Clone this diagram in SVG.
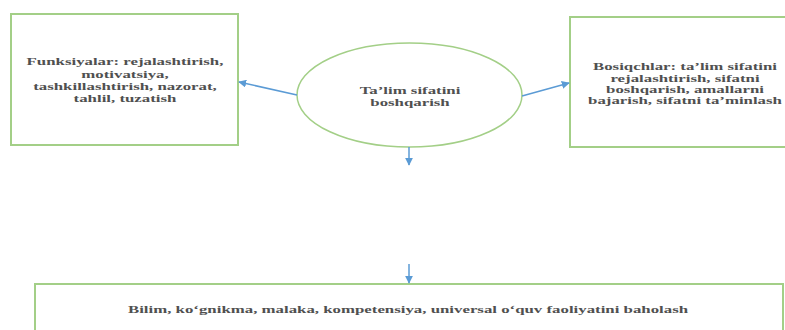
<svg xmlns="http://www.w3.org/2000/svg" width="785" height="330" viewBox="0 0 785 330">
<style>
.box{fill:#fff;stroke:#a3cf87;stroke-width:2}
.t{font-family:"Liberation Serif","Times New Roman",serif;font-weight:bold;font-size:11px;fill:#505050;text-anchor:middle}
.c{stroke:#5b9bd5;stroke-width:1.5;fill:none;marker-end:url(#ah)}
</style>
<defs>
<marker id="ah" viewBox="0 0 10 10" refX="9" refY="5" markerWidth="8" markerHeight="8" markerUnits="userSpaceOnUse" orient="auto">
<path d="M0,0 L10,5 L0,10 z" fill="#5b9bd5"/>
</marker>
</defs>
<rect width="785" height="330" fill="#fff"/>
<g id="funksiyalar">
<rect class="box" x="11" y="14" width="227" height="131"/>
<text class="t" transform="translate(125,0) scale(1.53,1)"><tspan x="0" y="65.5">Funksiyalar: rejalashtirish,</tspan><tspan x="0" y="77.8">motivatsiya,</tspan><tspan x="0" y="90">tashkillashtirish, nazorat,</tspan><tspan x="0" y="102.3">tahlil, tuzatish</tspan></text>
</g>
<g id="talim">
<ellipse cx="409.5" cy="95" rx="112.5" ry="52" fill="#fff" stroke="#a3cf87" stroke-width="1.5"/>
<text class="t" transform="translate(410,0) scale(1.53,1)"><tspan x="0" y="94.5">Taʼlim sifatini</tspan><tspan x="0" y="105.8">boshqarish</tspan></text>
</g>
<g id="bosiqchlar">
<rect class="box" x="570" y="17" width="232" height="130"/>
<text class="t" transform="translate(685,0) scale(1.53,1)"><tspan x="0" y="70.5">Bosiqchlar: taʼlim sifatini</tspan><tspan x="0" y="82">rejalashtirish, sifatni</tspan><tspan x="0" y="93.5">boshqarish, amallarni</tspan><tspan x="0" y="104.5">bajarish, sifatni taʼminlash</tspan></text>
</g>
<g id="baholash">
<rect class="box" x="35" y="284" width="748" height="60"/>
<text class="t" transform="translate(408,0) scale(1.53,1)"><tspan x="0" y="313.5">Bilim, koʻgnikma, malaka, kompetensiya, universal oʻquv faoliyatini baholash</tspan></text>
</g>
<g id="connectors">
<line class="c" x1="297" y1="95" x2="239" y2="82"/>
<line class="c" x1="522" y1="96" x2="569" y2="83"/>
<line class="c" x1="409" y1="147" x2="409" y2="165"/>
<line class="c" x1="409" y1="264" x2="409" y2="283"/>
</g>
</svg>
